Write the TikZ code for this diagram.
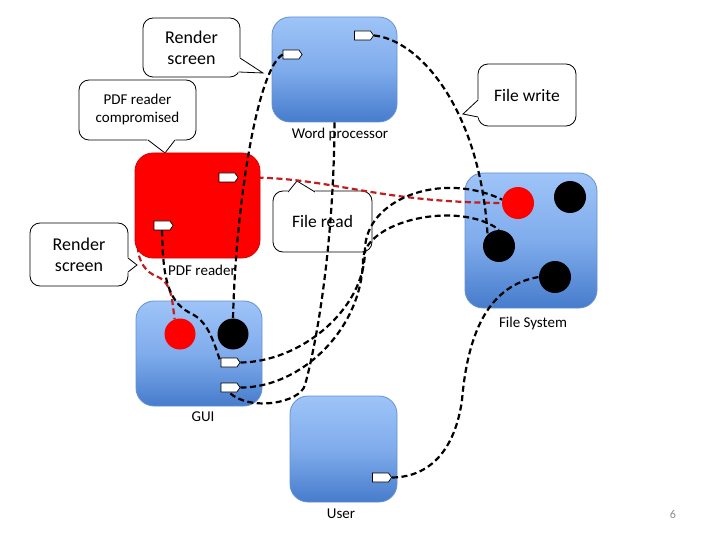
\documentclass[tikz,border=0pt]{standalone}
\usepackage{fontspec}
\setmainfont{Carlito}
\usetikzlibrary{shapes.symbols,calc}
\definecolor{boxtop}{RGB}{158,196,248}
\definecolor{boxmid}{RGB}{128,172,236}
\definecolor{boxbot}{RGB}{70,124,204}
\definecolor{boxedge}{RGB}{100,145,210}
\definecolor{reddark}{RGB}{210,0,0}
\definecolor{redline}{RGB}{192,30,30}
\definecolor{pagenum}{RGB}{140,140,140}
\begin{document}
\begin{tikzpicture}[x=1pt,y=-1pt,
  procbox/.style={draw=boxedge, line width=0.8pt, rounded corners=18pt, top color=boxtop, bottom color=boxbot, middle color=boxmid, inner sep=0pt},
  redbox/.style={draw=reddark, line width=0.8pt, rounded corners=18pt, fill=red, inner sep=0pt},
  tagshape/.style={shape=signal, signal to=east, signal pointer angle=110, draw=black, fill=white, line width=0.7pt, minimum width=19pt, minimum height=9pt, inner sep=0pt},
  callbox/.style={draw=black, line width=0.8pt, fill=white, rounded corners=10pt, align=center, inner sep=0pt},
  bigtxt/.style={font=\fontsize{18}{21}\selectfont},
  midtxt/.style={font=\fontsize{15}{18}\selectfont},
  hugetxt/.style={font=\fontsize{17.5}{21}\selectfont},
  lbl/.style={font=\fontsize{15}{17}\selectfont, inner sep=0pt},
  conn/.style={line width=2.2pt, dash pattern=on 6pt off 3.5pt},
  redconn/.style={conn, draw=redline},
  blackconn/.style={conn, draw=black},
  dot/.style={circle, inner sep=0pt, minimum size=#1},
  dot/.default=32pt,
  tailfill/.style={fill=white, draw=white, line width=1.6pt, line join=round},
  tailline/.style={draw=black, line width=0.8pt, line join=miter}
]
\useasboundingbox (0,0) rectangle (720,540);

% blue process boxes
\node[procbox, minimum width=125pt, minimum height=105pt] (wp) at (334.5,69.5) {};
\node[procbox, minimum width=132pt, minimum height=135pt] (fs) at (531,240.5) {};
\node[procbox, minimum width=126pt, minimum height=105pt] (gui) at (199,353.5) {};
\node[procbox, minimum width=107pt, minimum height=106pt] (user) at (343.5,449) {};

% tags on blue boxes
\node[tagshape] (wp1) at (291,54.5) {};
\node[tagshape] (wp2) at (362.5,35.5) {};
\node[tagshape] (gui1) at (229,362.5) {};
\node[tagshape] (gui2) at (229,387.5) {};
\node[tagshape] (usr1) at (380.5,477.5) {};

% circles
\node[dot, fill=red] (fsR) at (518,203) {};
\node[dot, fill=black] (fsB1) at (570,197) {};
\node[dot, fill=black] (fsB2) at (499,246) {};
\node[dot, fill=black] (fsB3) at (555,277) {};
\node[dot=31pt, fill=red] (guiR) at (180,334) {};
\node[dot=31pt, fill=black] (guiB) at (233,334) {};

% callouts
\node[callbox, bigtxt, minimum width=97pt, minimum height=59pt] (rs1) at (191.5,47.5) {Render\\screen};
\path[tailfill] (240,58) -- (263,73) -- (239,72) -- cycle;
\path[tailline] (240,58) -- (263,73) -- (239,72);

\node[callbox, midtxt, minimum width=117pt, minimum height=60pt] (pdfc) at (137.5,110) {PDF reader\\compromised};
\path[tailfill] (148,140) -- (165,153) -- (175,140) -- cycle;
\path[tailline] (148,140) -- (165,153) -- (175,140);

\node[callbox, bigtxt, minimum width=98pt, minimum height=63pt] (rs2) at (79,254.5) {Render\\screen};
\path[tailfill] (128,258) -- (137,265) -- (128,272) -- cycle;
\path[tailline] (128,258) -- (137,265) -- (128,272);

\node[callbox, hugetxt, minimum width=98pt, minimum height=62pt] (fw) at (527,95) {File write};
\path[tailfill] (478,100) -- (463,114) -- (478,117) -- cycle;
\path[tailline] (478,100) -- (463,114) -- (478,117);

\node[callbox, hugetxt, minimum width=99pt, minimum height=61pt] (fr) at (322.5,221.5) {File read};
\path[tailfill] (288,192) -- (297,181) -- (315,192) -- cycle;
\path[tailline] (288,192) -- (297,181) -- (315,192);

% tags of the PDF reader (placed first so red connectors can start from them)
\node[tagshape] (pdf1) at (227,177.5) {};
\node[tagshape] (pdf2) at (162,225.5) {};

% red connectors (run under the PDF reader box)
\draw[redconn] (pdf1.east) .. controls (330,176) and (370,202) .. (fsR.west);
\draw[redconn] (pdf2.west) .. controls (132,228) and (132,268) .. (158,277) .. controls (172,283) and (172,300) .. (guiR.110);

% PDF reader box (compromised) and its tags on top
\node[redbox, minimum width=125pt, minimum height=105pt] (pdf) at (197.5,205.5) {};
\node[tagshape] at (pdf1) {};
\node[tagshape] at (pdf2) {};

% black connectors
\draw[blackconn] (wp1.west) .. controls (258,68) and (236,200) .. (guiB.north);
\draw[blackconn] (wp2.east) .. controls (420,40) and (480,110) .. (fsB2.135);
\draw[blackconn] (pdf2.south) .. controls (163,270) and (165,300) .. (190,313) .. controls (208,321) and (213,340) .. (gui1.west);
\draw[blackconn] (gui1.east) .. controls (300,362) and (365,310) .. (365,250) .. controls (365,200) and (440,170) .. (fsR.168);
\draw[blackconn] (gui2.east) .. controls (300,388) and (362,330) .. (363,260) .. controls (364,220) and (460,200) .. (fsB2.north);
\draw[blackconn] (wp.south) .. controls (334,230) and (320,330) .. (305,385) .. controls (300,403) and (250,412) .. (gui2.south);
\draw[blackconn] (usr1.east) .. controls (430,477) and (455,450) .. (462,400) .. controls (468,330) and (490,285) .. (fsB3.west);

% labels
\node[lbl] (lwp) at (340,135) {Word processor};
\node[lbl] (lpdf) at (202,270) {PDF reader};
\node[lbl] (lfs) at (533,323) {File System};
\node[lbl] (lgui) at (203,417) {GUI};
\node[lbl] (luser) at (341,514) {User};
\node[font=\fontsize{12}{14}\selectfont, text=pagenum, inner sep=0pt] (pg) at (673,514) {6};
\end{tikzpicture}
\end{document}
